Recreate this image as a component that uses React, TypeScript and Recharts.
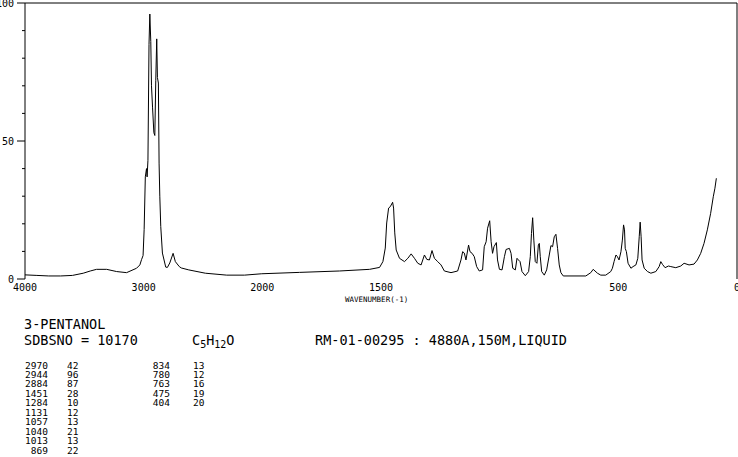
import React from "react";
import { LineChart, Line, XAxis, YAxis, ReferenceLine } from "recharts";

// Raman spectrum of 3-pentanol
const wavenumbers = [
  4000, 3900, 3800, 3700, 3600, 3509, 3450, 3397, 3312, 3228, 3144, 3060, 3032,
  3018, 3005, 2996, 2986, 2976, 2971, 2964, 2955, 2948, 2940, 2934, 2925, 2914,
  2906, 2898, 2890, 2884, 2876, 2870, 2864, 2856, 2842, 2814, 2800, 2780, 2752,
  2733, 2700, 2683, 2620, 2480, 2300, 2150, 2005,
  1843, 1675, 1548, 1506, 1492, 1482, 1476, 1468, 1461, 1451, 1447, 1442, 1436,
  1422, 1401, 1387, 1373, 1359, 1345, 1331, 1317, 1307, 1296, 1285, 1275, 1261,
  1247, 1233, 1205, 1177, 1163, 1156, 1149, 1142, 1131, 1125, 1116, 1107, 1097,
  1086, 1072, 1065, 1057, 1051, 1042, 1036, 1030, 1024, 1014, 1009, 1001, 990,
  980, 973, 959, 952, 945, 934, 927, 921, 914, 906, 892, 878, 871, 866, 861,
  856, 850, 843, 837, 833, 829, 823, 812, 802, 791, 784, 777, 770, 763, 756,
  749, 742, 732, 637, 616, 606, 588, 574, 553, 532, 525, 518, 510, 504, 497,
  489, 483, 478, 474, 471, 466, 459, 447, 438, 426, 418, 412, 408, 404, 400,
  391, 377, 363, 342, 328, 321, 314, 303, 289, 279, 258, 237, 223, 202, 181,
  167, 153, 139, 125, 111, 100, 93, 87,
];
const intensities = [
  1.5, 1.3, 1.1, 1.1, 1.3, 2.1, 2.9, 3.5, 3.5, 2.7, 2.3, 3.9, 5.1,
  7, 8.5, 18, 37, 40, 37, 43, 85, 96, 86, 70, 62, 53,
  52, 72, 87, 73, 71, 42, 30, 19, 9.4, 4.3, 4.2, 5.8, 9.3,
  6.3, 4.5, 4, 3.3, 2.1, 1.4, 1.4, 1.9,
  2.4, 2.9, 3.5, 4.2, 6.3, 11.2, 20.3, 25.7, 26.2, 27.8, 25.7, 16.7, 10.5,
  7.5, 6.3, 7.5, 9.1, 7.5, 5.7, 5.1, 8.7, 7.1, 6.9, 10.3, 7.5, 6.3,
  5.1, 2.9, 2.3, 2.9, 6.9, 9.9, 9.4, 6.9, 12.3, 9.9, 9.3, 8.1, 4.5,
  2.9, 3.3, 11.7, 13.5, 18.4, 21.1, 13.5, 9.3, 11.7, 13.2, 6.9, 3.5, 3.3,
  8.1, 10.7, 11.1, 9.3, 3.9, 3.3, 7.5, 6.9, 6.3, 2.7, 1.2, 2.7, 8.1, 16.5, 22.2,
  14.1, 6.3, 5.7, 12.3, 12.9, 8.1, 2.7, 1.4, 3.3, 8.7, 12.1, 11.7, 15.3, 16.2, 11.1,
  5.1, 2.3, 1.1, 1.1, 2.3, 3.5, 2.1, 1.4, 1.4, 2.7, 3.9, 6.3, 8.7, 8.1, 6.9,
  9.9, 14.1, 19.6, 17.8, 11.1, 9.9, 5.7, 3.9, 4.5, 5.1, 7.5, 15.3, 20.6, 15.3, 6.9,
  3.9, 2.7, 2.1, 2.7, 4.5, 6.3, 5.3, 4.1, 4.7, 4.5, 4.1, 4.7, 5.7, 5.1, 5.4,
  6.9, 9.3, 12.9, 17.8, 23.8, 29.8, 32.9, 36.5,
];

const xLabels = [4000, 3000, 2000, 1500, 500, 0];
const yTicks = [0, 10, 20, 30, 40, 50, 60, 70, 80, 90, 100];
const yLabels = [0, 50, 100];

const peakWave = ["2970", "2944", "2884", "1451", "1284", "1131", "1057", "1040", "1013", "869"];
const peakInt = ["42", "96", "87", "28", "10", "12", "13", "21", "13", "22"];
const peakWave2 = ["834", "780", "763", "475", "404"];
const peakInt2 = ["13", "12", "16", "19", "20"];

// the SDBS plot compresses 4000-2000 to half scale
const toAxis = (w: number) => (w >= 2000 ? (4000 - w) / 2 : 3000 - w);
const fromAxis = (p: number) => (p <= 1000 ? 4000 - p * 2 : 3000 - p);

const data = wavenumbers.map((w, i) => ({ p: toAxis(w), v: intensities[i] }));
const xTicks: number[] = [];
for (let w = 4000; w >= 0; w -= 100) xTicks.push(toAxis(w));
const xLabelTicks = xLabels.map(toAxis);

const mono = "'DejaVu Sans Mono', monospace";

// tick marks only; the labels come from the second x axis
const renderXMark = (props: any) => {
  const { x, y, payload } = props;
  const major = xLabels.includes(Math.round(fromAxis(Number(payload.value))));
  return <line x1={x} x2={x} y1={y} y2={y + (major ? 7 : 4)} stroke="#000" />;
};

const renderYTick = (props: any) => {
  const { x, y, payload } = props;
  const major = yLabels.includes(payload.value);
  return (
    <g>
      <line x1={x - (major ? 8 : 3)} x2={x} y1={y} y2={y} stroke="#000" />
      {major ? (
        <text x={x - 11} y={y + 3.5} textAnchor="end" fontSize={10} fontFamily={mono} fill="#000">
          {String(payload.value)}
        </text>
      ) : null}
    </g>
  );
};

const txt = (
  left: number,
  top: number,
  size: number,
  s: React.ReactNode,
  align: "left" | "right" = "left",
  w = 0
) => (
  <div
    style={{
      position: "absolute",
      left: align === "left" ? left : left - w,
      top,
      width: align === "right" ? w : undefined,
      textAlign: align,
      fontSize: size,
      fontFamily: mono,
      lineHeight: `${size * 0.9}px`,
      whiteSpace: "pre",
      color: "#000",
    }}
  >
    {s}
  </div>
);

const sub = { fontSize: 10, position: "relative" as const, top: 3 };

export default function App() {
  return (
    <div style={{ position: "absolute", left: 0, top: 0, width: 738, height: 457, background: "#fff", overflow: "hidden" }}>
      <LineChart width={738} height={340} data={data} margin={{ top: 3, right: 1, left: 0, bottom: 40 }}>
        <XAxis
          xAxisId="marks"
          dataKey="p"
          type="number"
          domain={[0, 3000]}
          ticks={xTicks}
          interval={0}
          tick={renderXMark}
          tickLine={false}
          tickSize={0}
          tickMargin={0}
          height={0}
          stroke="#000"
          allowDataOverflow
        />
        <XAxis
          xAxisId="labels"
          dataKey="p"
          type="number"
          domain={[0, 3000]}
          ticks={xLabelTicks}
          interval={0}
          tickFormatter={(v: number) => String(Math.round(fromAxis(v)))}
          tick={{ fontSize: 10, fontFamily: mono, fill: "#000" }}
          axisLine={false}
          tickLine={false}
          tickSize={0}
          tickMargin={5}
          height={21}
          allowDataOverflow
        />
        <YAxis
          type="number"
          domain={[0, 100]}
          ticks={yTicks}
          interval={0}
          tick={renderYTick}
          tickLine={false}
          tickSize={0}
          tickMargin={0}
          width={25}
          stroke="#000"
        />
        <ReferenceLine xAxisId="marks" y={100} stroke="#000" />
        <ReferenceLine xAxisId="marks" x={3000} stroke="#000" />
        <Line xAxisId="marks" dataKey="v" type="linear" stroke="#000" strokeWidth={1} dot={false} isAnimationActive={false} />
      </LineChart>
      {txt(345, 297, 7.5, "WAVENUMBER(-1)")}
      {txt(24, 318, 13.5, "3-PENTANOL")}
      {txt(24, 334, 13.5, "SDBSNO = 10170")}
      {txt(
        192,
        334,
        13.5,
        <span>
          C<span style={sub}>5</span>H<span style={sub}>12</span>O
        </span>
      )}
      {txt(315, 334, 13.5, "RM-01-00295 : 4880A,150M,LIQUID")}
      {peakWave.map((s, i) => (
        <React.Fragment key={s}>
          {txt(48, 361.5 + i * 9.45, 9.5, s, "right", 30)}
          {txt(67, 361.5 + i * 9.45, 9.5, peakInt[i])}
        </React.Fragment>
      ))}
      {peakWave2.map((s, i) => (
        <React.Fragment key={s}>
          {txt(170, 361.5 + i * 9.45, 9.5, s, "right", 30)}
          {txt(193, 361.5 + i * 9.45, 9.5, peakInt2[i])}
        </React.Fragment>
      ))}
    </div>
  );
}
